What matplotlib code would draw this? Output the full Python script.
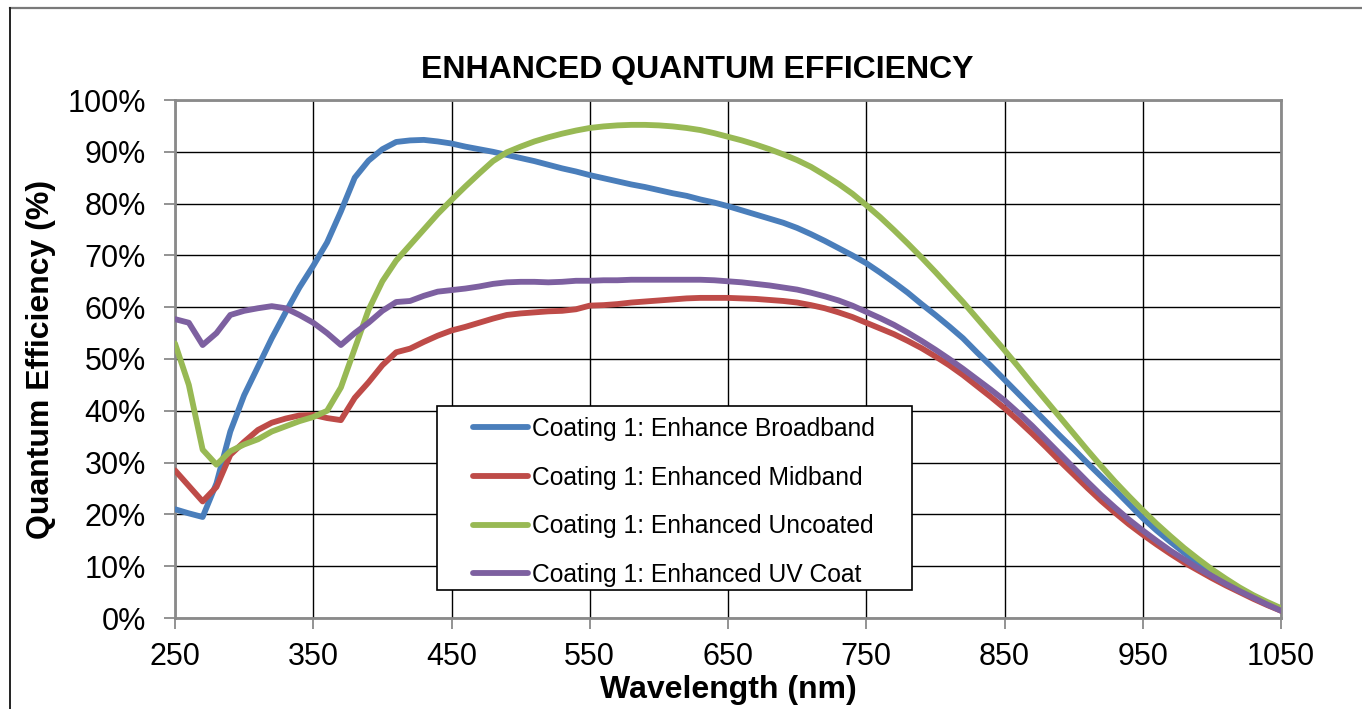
import matplotlib
matplotlib.use("Agg")
import matplotlib.pyplot as plt
from matplotlib.lines import Line2D
from matplotlib.patches import Rectangle
from matplotlib.ticker import PercentFormatter

plt.rcParams['font.family'] = ['Liberation Sans', 'DejaVu Sans']

# wavelength grid (nm), 250..1050 every 10 nm
wl = list(range(250, 1051, 10))

# quantum efficiency (%) per coating
broadband = [21.0, 20.2, 19.5, 26.0, 36.0, 43.0, 48.5, 54.0, 59.0, 63.8,
             68.0, 72.5, 78.5, 85.0, 88.3, 90.5, 91.9, 92.2, 92.3, 92.0,
             91.6, 91.0, 90.5, 90.0, 89.4, 88.8, 88.2, 87.5, 86.8, 86.2,
             85.5, 84.9, 84.3, 83.7, 83.2, 82.6, 82.0, 81.5, 80.8, 80.2,
             79.5, 78.7, 77.9, 77.1, 76.3, 75.3, 74.1, 72.8, 71.4, 70.0,
             68.5, 66.7, 64.8, 62.8, 60.6, 58.5, 56.3, 54.0, 51.3, 48.7,
             46.0, 43.3, 40.6, 37.9, 35.2, 32.6, 29.9, 27.3, 24.7, 22.0,
             19.3, 16.9, 14.7, 12.6, 10.6, 8.8, 7.1, 5.6, 4.2, 2.9,
             1.7]
midband = [28.5, 25.5, 22.5, 25.3, 31.5, 34.0, 36.3, 37.7, 38.5, 39.1,
           39.2, 38.6, 38.2, 42.5, 45.5, 48.8, 51.3, 52.0, 53.3, 54.5,
           55.5, 56.2, 57.0, 57.8, 58.5, 58.8, 59.0, 59.2, 59.3, 59.6,
           60.3, 60.4, 60.6, 60.9, 61.1, 61.3, 61.5, 61.7, 61.8, 61.8,
           61.8, 61.7, 61.6, 61.4, 61.2, 60.9, 60.4, 59.8, 59.0, 58.1,
           57.0, 55.9, 54.8, 53.5, 52.1, 50.5, 48.8, 46.9, 44.8, 42.7,
           40.5, 38.1, 35.6, 33.0, 30.3, 27.7, 25.1, 22.6, 20.3, 18.1,
           16.1, 14.2, 12.4, 10.7, 9.2, 7.7, 6.3, 5.0, 3.7, 2.5,
           1.4]
uncoated = [53.0, 45.0, 32.5, 29.6, 32.2, 33.5, 34.5, 36.0, 37.0, 38.0,
            38.8, 40.0, 44.5, 52.0, 59.5, 65.0, 69.0, 72.0, 75.0, 78.0,
            80.7, 83.3, 85.8, 88.2, 89.9, 91.0, 92.0, 92.8, 93.5, 94.1,
            94.6, 94.9, 95.1, 95.2, 95.2, 95.1, 94.9, 94.6, 94.2, 93.6,
            92.9, 92.2, 91.4, 90.5, 89.5, 88.4, 87.1, 85.5, 83.8, 81.9,
            79.7, 77.4, 74.9, 72.3, 69.6, 66.8, 63.9, 61.0, 57.9, 54.8,
            51.7, 48.5, 45.2, 42.0, 38.8, 35.6, 32.4, 29.3, 26.3, 23.5,
            20.8, 18.2, 15.8, 13.5, 11.4, 9.4, 7.6, 5.9, 4.4, 3.1,
            1.9]
uv_coat = [57.7, 57.0, 52.7, 55.0, 58.5, 59.3, 59.8, 60.2, 59.8, 58.5,
           57.0, 55.0, 52.7, 55.0, 57.0, 59.3, 61.0, 61.2, 62.2, 63.0,
           63.3, 63.6, 64.0, 64.5, 64.8, 64.9, 64.9, 64.8, 64.9, 65.1,
           65.1, 65.2, 65.2, 65.3, 65.3, 65.3, 65.3, 65.3, 65.3, 65.2,
           65.0, 64.8, 64.5, 64.2, 63.8, 63.4, 62.8, 62.1, 61.3, 60.3,
           59.1, 57.9, 56.6, 55.1, 53.5, 51.8, 50.0, 48.1, 46.1, 44.1,
           42.0, 39.6, 37.1, 34.4, 31.7, 29.0, 26.3, 23.7, 21.3, 19.0,
           16.9, 14.9, 13.0, 11.3, 9.6, 8.1, 6.6, 5.2, 3.9, 2.6,
           1.4]

series = [
    ("Coating 1: Enhance Broadband", broadband, "#4A7EBB"),
    ("Coating 1: Enhanced Midband", midband, "#BE4B48"),
    ("Coating 1: Enhanced Uncoated", uncoated, "#98B954"),
    ("Coating 1: Enhanced UV Coat", uv_coat, "#7D60A0"),
]

fig = plt.figure(figsize=(13.62, 7.09), dpi=100)
ax = fig.add_axes([175 / 1362, 1 - 618 / 709, 1106 / 1362, 518 / 709])

for label, vals, col in series:
    ax.plot(wl, vals, color=col, lw=4.2, label=label,
            solid_joinstyle='round', solid_capstyle='round', zorder=3)

ax.set_xlim(250, 1050)
ax.set_ylim(0, 100)
ax.set_xticks(range(250, 1051, 100))
ax.set_yticks(range(0, 101, 10))
ax.yaxis.set_major_formatter(PercentFormatter(decimals=0))
ax.grid(True, color='black', lw=1.0, zorder=1)
ax.tick_params(direction='out', length=8, width=1.2, color='#808080',
               labelsize=22)
ax.tick_params(axis='x', pad=9)
ax.tick_params(axis='y', pad=13)
for sp in ax.spines.values():
    sp.set_color('#8a8a8a')
    sp.set_linewidth(2.0)

ax.set_xlabel("Wavelength (nm)", fontsize=23, fontweight='bold')
ax.set_ylabel("Quantum Efficiency (%)", fontsize=23, fontweight='bold')
ax.xaxis.set_label_coords(0.5, -0.11)
ax.yaxis.set_label_coords(-0.108, 0.5)

fig.text(697 / 1362, 1 - 70 / 709, "ENHANCED QUANTUM EFFICIENCY",
         ha='center', va='center', fontsize=23, fontweight='bold')

# legend box drawn separately so its padding can differ per side
ax.add_patch(Rectangle((262 / 1106, 28 / 518), 475 / 1106, 184 / 518,
                       transform=ax.transAxes, facecolor='white',
                       edgecolor='black', lw=1.2, zorder=4))
leg = ax.legend(loc='upper left', bbox_to_anchor=(298 / 1106, 201 / 518),
                fontsize=17.75, frameon=False, borderpad=0,
                handlelength=2.24, handletextpad=0.16, labelspacing=1.0,
                borderaxespad=0)
leg.set_zorder(5)

# outer chart frame
fig.add_artist(Line2D([10 / 1362, 1], [1 - 8 / 709, 1 - 8 / 709],
                      color='#7a7a7a', lw=1.6, transform=fig.transFigure))
fig.add_artist(Line2D([10 / 1362, 10 / 1362], [0, 1 - 8 / 709],
                      color='#222222', lw=1.4, transform=fig.transFigure))

fig.savefig("out.png", dpi=100, facecolor='white')
